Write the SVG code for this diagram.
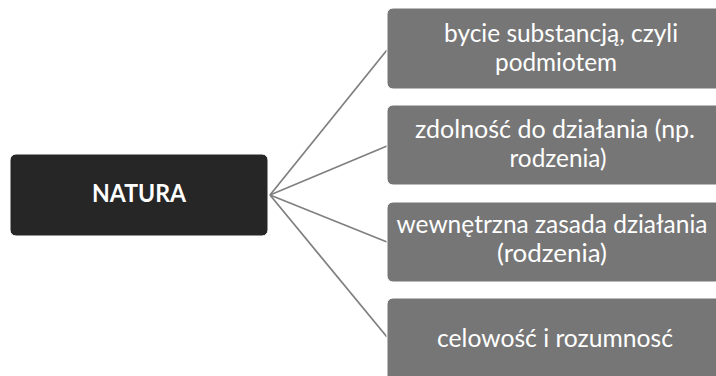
<svg xmlns="http://www.w3.org/2000/svg" width="716" height="376" viewBox="0 0 716 376">
<style>
.bg{fill:#ffffff}
.main rect{fill:#262626;stroke:#ffffff;stroke-width:1}
.item rect{fill:#767676;stroke:#ffffff;stroke-width:1}
.conn line{stroke:#808080;stroke-width:1.75;fill:none}
text{font-family:Lato,"Liberation Sans",sans-serif;font-size:25px;fill:#ffffff;text-anchor:middle}
.main text{font-weight:bold;font-size:24px}
</style>
<rect class="bg" x="0" y="0" width="716" height="376"/>
<g id="connectors" class="conn">
<line x1="270" y1="195" x2="387" y2="50"/>
<line x1="270" y1="195" x2="387" y2="146"/>
<line x1="270" y1="195" x2="387" y2="242"/>
<line x1="270" y1="195" x2="387" y2="337"/>
</g>
<g id="natura" class="main">
<rect x="10" y="154" width="258" height="82" rx="6"/>
<text x="139" y="202" textLength="94" lengthAdjust="spacingAndGlyphs">NATURA</text>
</g>
<g id="n1" class="item">
<rect x="387" y="8" width="340" height="81" rx="6"/>
<text x="561" y="42" textLength="234" lengthAdjust="spacingAndGlyphs">bycie substancją, czyli</text>
<text x="556" y="71" textLength="122" lengthAdjust="spacingAndGlyphs">podmiotem</text>
</g>
<g id="n2" class="item">
<rect x="387" y="105" width="340" height="80" rx="6"/>
<text x="555" y="138" textLength="280" lengthAdjust="spacingAndGlyphs">zdolność do działania (np.</text>
<text x="558" y="167" textLength="97" lengthAdjust="spacingAndGlyphs">rodzenia)</text>
</g>
<g id="n3" class="item">
<rect x="387" y="202" width="340" height="80" rx="6"/>
<text x="552" y="233" textLength="311" lengthAdjust="spacingAndGlyphs">wewnętrzna zasada działania</text>
<text x="552" y="262" textLength="110" lengthAdjust="spacingAndGlyphs">(rodzenia)</text>
</g>
<g id="n4" class="item">
<rect x="387" y="298" width="340" height="86" rx="6"/>
<text x="555" y="347" textLength="236" lengthAdjust="spacingAndGlyphs">celowość i rozumnosć</text>
</g>
</svg>
